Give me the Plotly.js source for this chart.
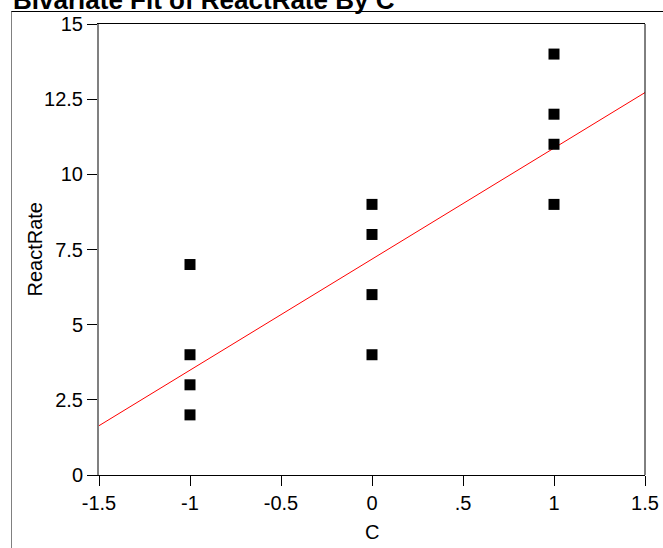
<!DOCTYPE html>
<html>
<head>
<meta charset="utf-8">
<script src="https://cdn.plot.ly/plotly-3.0.1.min.js"></script>
<style>
html,body{margin:0;padding:0;background:#fff;}
#chart{width:663px;height:548px;position:relative;}
#frame{position:absolute;left:11px;top:11px;width:660px;height:540px;border-left:1px solid #808080;border-top:1px solid #000;pointer-events:none;}
</style>
</head>
<body>
<div id="chart"></div>
<script>
// Data
const cValues = [-1, -1, -1, -1, 0, 0, 0, 0, 1, 1, 1, 1];
const reactRate = [7, 4, 3, 2, 9, 8, 6, 4, 14, 12, 11, 9];
const fitX = [-1.5, 1.5];
const fitY = [1.64, 12.72];
const xTickVals = [-1.5, -1, -0.5, 0, 0.5, 1, 1.5];
const xTickText = ['-1.5', '-1', '-0.5', '0', '.5', '1', '1.5'];
const yTickVals = [0, 2.5, 5, 7.5, 10, 12.5, 15];
const yTickText = ['0', '2.5', '5', '7.5', '10', '12.5', '15'];

const font = 'Arial, Liberation Sans, sans-serif';

const traces = [
  {
    x: fitX, y: fitY, type: 'scatter', mode: 'lines',
    line: {color: '#ff0000', width: 1}, hoverinfo: 'skip'
  },
  {
    x: cValues, y: reactRate, type: 'scatter', mode: 'markers',
    marker: {symbol: 'square', size: 11, color: '#000'}
  }
];

const layout = {
  width: 663, height: 548,
  margin: {l: 99, r: 18, t: 24, b: 73},
  paper_bgcolor: '#fff', plot_bgcolor: '#fff',
  showlegend: false,
  font: {family: font, size: 20, color: '#000'},
  title: {
    text: '<b>Bivariate Fit of ReactRate By C</b>',
    font: {family: font, size: 26, color: '#000'},
    xref: 'container', x: 13/663, xanchor: 'left',
    yref: 'container', y: 1.0, yanchor: 'middle'
  },
  xaxis: {
    range: [-1.5, 1.5], tickvals: xTickVals, ticktext: xTickText,
    ticks: 'outside', ticklen: 10, tickcolor: '#000', tickwidth: 1,
    showline: true, linecolor: '#000', linewidth: 1, mirror: true,
    showgrid: false, zeroline: false,
    tickfont: {family: font, size: 20}
  },
  yaxis: {
    range: [0, 15], tickvals: yTickVals, ticktext: yTickText,
    ticks: 'outside', ticklen: 10, tickcolor: '#000', tickwidth: 1,
    showline: true, linecolor: '#808080', linewidth: 2,
    showgrid: false, zeroline: false,
    tickfont: {family: font, size: 20}
  },
  annotations: [
    {text: 'C', xref: 'paper', yref: 'paper', x: 0.5, y: (475 - 532) / 451,
     xanchor: 'center', yanchor: 'middle', showarrow: false,
     font: {family: font, size: 20, color: '#000'}},
    {text: 'ReactRate', xref: 'paper', yref: 'paper', x: (34 - 99) / 546, y: 0.5,
     xanchor: 'center', yanchor: 'middle', showarrow: false, textangle: -90,
     font: {family: font, size: 20, color: '#000'}}
  ],
  shapes: [
    {type: 'line', xref: 'paper', yref: 'paper', x0: 1, x1: 1, y0: 0, y1: 1,
     line: {color: '#000', width: 1}}
  ]
};

Plotly.newPlot('chart', traces, layout, {displayModeBar: false, staticPlot: true});
</script>
<div id="frame"></div>
</body>
</html>
